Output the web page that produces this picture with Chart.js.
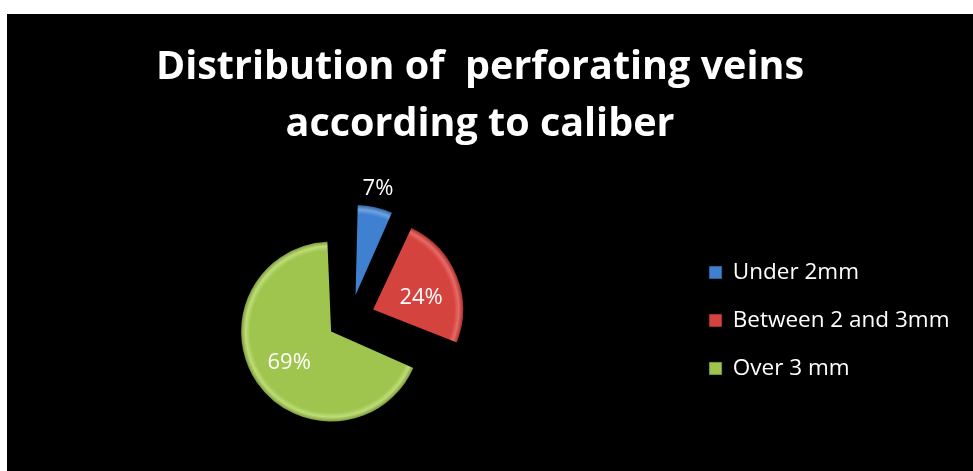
<!DOCTYPE html>
<html>
<head>
  <title>Distribution of perforating veins</title>
  <script src="https://cdn.jsdelivr.net/npm/chart.js"></script>
  <style>
    html, body { margin: 0; padding: 0; background: #fff; overflow: hidden; }
    #panel { position: absolute; left: 7px; top: 14px; width: 966px; height: 457px; background: #000; }
    #wrap { position: absolute; left: 0; top: 0; width: 973px; height: 471px; }
  </style>
</head>
<body>
  <div id="panel"></div>
  <div id="wrap"><canvas id="pieChart"></canvas></div>

  <script>
    const categories = ['Under 2mm', 'Between 2 and 3mm', 'Over 3 mm'];
    const percentages = [7, 24, 69];
    const sliceLabels = ['7%', '24%', '69%'];

    const baseColors = ['#4080d0', '#d5433f', '#9fc54e'];
    const lightColors = ['#6fa2e2', '#e86a65', '#bedd78'];
    const darkColors = ['#30649f', '#a8302d', '#7b9a3a'];

    // exploded slices (Chart.js offset units, 4 units = 1px of shift)
    const sliceOffsets = [96, 98, 93];

    // where the percent text sits: distance from the pie centre and angle nudge (deg)
    const labelDist = [134, 74, 75];
    const labelNudge = [-0.7, 4.7, -1.2];

    const RADIUS = 90;

    const bevel = (ctx) => {
      const i = ctx.dataIndex;
      const area = ctx.chart.chartArea;
      if (!area) return baseColors[i];
      const cx = (area.left + area.right) / 2;
      const cy = (area.top + area.bottom) / 2;
      const g = ctx.chart.ctx.createRadialGradient(cx, cy, 0, cx, cy, RADIUS);
      g.addColorStop(0, baseColors[i]);
      g.addColorStop(0.9, baseColors[i]);
      g.addColorStop(0.95, lightColors[i]);
      g.addColorStop(1, darkColors[i]);
      return g;
    };

    // Chart.js makes exploded arcs a bit bigger; pull them back so all slices share one radius
    const sameRadius = {
      id: 'sameRadius',
      afterDatasetUpdate(chart, args) {
        args.meta.data.forEach((arc, i) => {
          const fix = 1 - Math.sin(Math.min(Math.PI, arc.circumference));
          arc.outerRadius = RADIUS - sliceOffsets[i] / 4 * fix;
        });
      }
    };

    const sliceText = {
      id: 'sliceText',
      afterDatasetsDraw(chart) {
        const { ctx } = chart;
        const arcs = chart.getDatasetMeta(0).data;
        ctx.save();
        ctx.fillStyle = '#fff';
        ctx.font = '22px "Open Sans"';
        ctx.textAlign = 'center';
        ctx.textBaseline = 'middle';
        arcs.forEach((arc, i) => {
          const mid = (arc.startAngle + arc.endAngle) / 2 + labelNudge[i] * Math.PI / 180;
          ctx.fillText(sliceLabels[i],
            arc.x + Math.cos(mid) * labelDist[i],
            arc.y + Math.sin(mid) * labelDist[i] + 1);
        });
        ctx.restore();
      }
    };

    new Chart(document.getElementById('pieChart'), {
      type: 'pie',
      data: {
        labels: categories,
        datasets: [{
          data: percentages,
          backgroundColor: bevel,
          borderWidth: 0,
          offset: sliceOffsets
        }]
      },
      options: {
        responsive: true,
        maintainAspectRatio: false,
        animation: false,
        events: [],
        radius: RADIUS,
        layout: { padding: { left: 0.5, right: 13.5, top: 0, bottom: 0 } },
        plugins: {
          tooltip: { enabled: false },
          title: {
            display: true,
            text: ['Distribution of  perforating veins', 'according to caliber'],
            color: '#fff',
            font: { family: '"Open Sans"', size: 39.5, weight: 'bold', lineHeight: '57px' },
            padding: { top: 39, bottom: 13 }
          },
          legend: {
            position: 'right',
            fullSize: false,
            // empty title only used as a spacer above the items
            title: { display: true, text: '', padding: 0, font: { size: 20, lineHeight: '20px' } },
            labels: {
              color: '#fff',
              font: { family: '"Open Sans"', size: 22.5, lineHeight: '38.6px' },
              boxWidth: 12,
              boxHeight: 12,
              padding: 9.4,
              generateLabels(chart) {
                return categories.map((c, i) => ({
                  text: [c],
                  fillStyle: baseColors[i],
                  strokeStyle: darkColors[i],
                  lineWidth: 1,
                  fontColor: '#fff',
                  index: i
                }));
              }
            }
          }
        }
      },
      plugins: [sameRadius, sliceText]
    });
  </script>
</body>
</html>
